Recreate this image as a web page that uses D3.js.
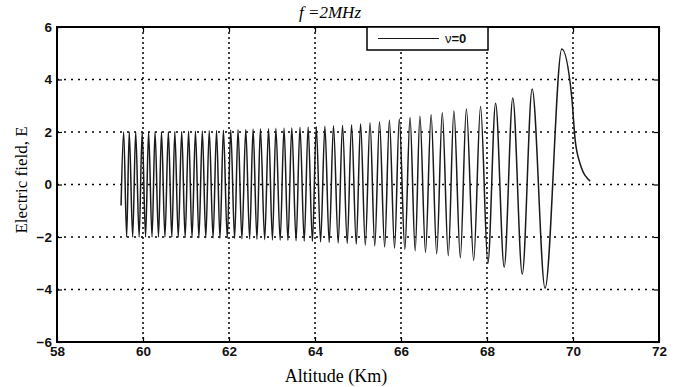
<!DOCTYPE html>
<html>
<head>
<meta charset="utf-8">
<script src="https://cdnjs.cloudflare.com/ajax/libs/d3/7.8.5/d3.min.js"></script>
<style>
  body { margin: 0; background: #fff; }
  svg { display: block; }
</style>
</head>
<body>
<div id="chart"></div>
<script>
// values: crests, troughs and the decaying tail
var peakAlt = [59.55, 59.68, 59.83, 59.98, 60.13, 60.28, 60.43, 60.59, 60.74, 60.90,
  61.06, 61.22, 61.38, 61.54, 61.71, 61.87, 62.04, 62.21, 62.39, 62.56,
  62.73, 62.92, 63.09, 63.28, 63.46, 63.65, 63.84, 64.03, 64.23, 64.43,
  64.64, 64.85, 65.06, 65.28, 65.50, 65.73, 65.96, 66.21, 66.44, 66.70,
  66.96, 67.23, 67.52, 67.85, 68.20, 68.60, 69.05, 69.74];
var peakE = [2.00, 2.00, 2.00, 2.00, 2.00, 2.00, 2.01, 2.01, 2.02, 2.02,
  2.03, 2.03, 2.04, 2.05, 2.06, 2.07, 2.08, 2.09, 2.10, 2.11,
  2.12, 2.13, 2.14, 2.15, 2.16, 2.18, 2.19, 2.21, 2.22, 2.24,
  2.26, 2.28, 2.31, 2.35, 2.39, 2.45, 2.50, 2.55, 2.60, 2.66,
  2.73, 2.80, 2.88, 2.97, 3.10, 3.30, 3.64, 5.16];

var troughAlt = [59.62, 59.76, 59.91, 60.06, 60.21, 60.36, 60.51, 60.67, 60.82, 60.98,
  61.14, 61.30, 61.46, 61.63, 61.79, 61.96, 62.13, 62.30, 62.48, 62.65,
  62.83, 63.01, 63.19, 63.37, 63.56, 63.75, 63.94, 64.13, 64.33, 64.54,
  64.75, 64.96, 65.17, 65.39, 65.62, 65.85, 66.09, 66.33, 66.57, 66.83,
  67.10, 67.38, 67.69, 68.02, 68.40, 68.82, 69.35];
var troughE = [-2.00, -2.00, -2.00, -2.00, -2.00, -2.00, -2.00, -2.01, -2.01, -2.02,
  -2.02, -2.03, -2.03, -2.04, -2.05, -2.05, -2.06, -2.07, -2.08, -2.09,
  -2.10, -2.11, -2.12, -2.13, -2.14, -2.16, -2.17, -2.19, -2.21, -2.23,
  -2.25, -2.28, -2.31, -2.34, -2.38, -2.42, -2.47, -2.52, -2.58, -2.64,
  -2.71, -2.79, -2.89, -3.00, -3.15, -3.41, -3.95];

var endAlt = [59.49, 69.97, 70.05, 70.16, 70.40];
var endE = [-0.80, 3.34, 1.70, 0.82, 0.13];

var xTicks = [58, 60, 62, 64, 66, 68, 70, 72];
var yTicks = [-6, -4, -2, 0, 2, 4, 6];

var W = 681, H = 387;
var mLeft = 57, mRight = 659, mTop = 27, mBottom = 342;

var pts = [];
peakAlt.forEach(function(a, i) { pts.push([a, peakE[i]]); });
troughAlt.forEach(function(a, i) { pts.push([a, troughE[i]]); });
endAlt.forEach(function(a, i) { pts.push([a, endE[i]]); });
pts.sort(function(a, b) { return a[0] - b[0]; });

var x = d3.scaleLinear().domain([58, 72]).range([mLeft, mRight]);
var y = d3.scaleLinear().domain([-6, 6]).range([mBottom, mTop]);

var svg = d3.select("#chart").append("svg")
  .attr("width", W)
  .attr("height", H);

// dotted grid
svg.append("g")
  .selectAll("line")
  .data(xTicks.slice(1, -1))
  .enter().append("line")
    .attr("x1", d => x(d)).attr("x2", d => x(d))
    .attr("y1", mTop).attr("y2", mBottom)
    .attr("stroke", "#000")
    .attr("stroke-width", 1.5)
    .attr("stroke-dasharray", "2,3");

svg.append("g")
  .selectAll("line")
  .data(yTicks.slice(1, -1))
  .enter().append("line")
    .attr("x1", mLeft).attr("x2", mRight)
    .attr("y1", d => y(d)).attr("y2", d => y(d))
    .attr("stroke", "#000")
    .attr("stroke-width", 1.5)
    .attr("stroke-dasharray", "2,5");

// curve
var line = d3.line()
  .x(d => x(d[0]))
  .y(d => y(d[1]))
  .curve(d3.curveMonotoneX);

svg.append("path")
  .datum(pts)
  .attr("fill", "none")
  .attr("stroke", "#1a1a1a")
  .attr("stroke-width", 1.5)
  .attr("d", line);

// axes, ticks pointing inward
var fontTick = "'Liberation Sans', Arial, sans-serif";

var xa = svg.append("g")
  .attr("transform", "translate(0," + mBottom + ")")
  .call(d3.axisBottom(x).tickValues(xTicks).tickSize(-5).tickPadding(4).tickFormat(d3.format("d")));
var ya = svg.append("g")
  .attr("transform", "translate(" + mLeft + ",0)")
  .call(d3.axisLeft(y).tickValues(yTicks).tickSize(-5).tickPadding(5).tickFormat(d => d < 0 ? "\u2212" + (-d) : d));
svg.append("g")
  .attr("transform", "translate(0," + mTop + ")")
  .call(d3.axisTop(x).tickValues(xTicks).tickSize(-5).tickFormat(""));
svg.append("g")
  .attr("transform", "translate(" + mRight + ",0)")
  .call(d3.axisRight(y).tickValues(yTicks).tickSize(-5).tickFormat(""));

svg.selectAll(".domain").remove();
svg.selectAll(".tick line").attr("stroke", "#000").attr("stroke-width", 1.2);
[xa, ya].forEach(function(g) {
  g.selectAll("text")
    .attr("font-family", fontTick)
    .attr("font-weight", "bold")
    .attr("font-size", 13.5)
    .attr("fill", "#111");
});

// frame
svg.append("rect")
  .attr("x", mLeft).attr("y", mTop)
  .attr("width", mRight - mLeft).attr("height", mBottom - mTop)
  .attr("fill", "none")
  .attr("stroke", "#000")
  .attr("stroke-width", 2);

// legend
var lg = svg.append("g");
lg.append("rect")
  .attr("x", 367).attr("y", mTop)
  .attr("width", 121).attr("height", 23)
  .attr("fill", "#fff")
  .attr("stroke", "#000")
  .attr("stroke-width", 1.5);
lg.append("line")
  .attr("x1", 378).attr("x2", 439)
  .attr("y1", mTop + 11.5).attr("y2", mTop + 11.5)
  .attr("stroke", "#1a1a1a")
  .attr("stroke-width", 1.2);
var lt = lg.append("text")
  .attr("x", 445).attr("y", mTop + 16)
  .attr("font-family", fontTick)
  .attr("font-size", 13)
  .attr("fill", "#111");
lt.append("tspan").text("\u03BD");
lt.append("tspan").attr("font-weight", "bold").text("=0");

// titles
var serif = "'Liberation Serif', 'Times New Roman', serif";
svg.append("text")
  .attr("x", 330).attr("y", 18)
  .attr("text-anchor", "middle")
  .attr("font-family", serif)
  .attr("font-style", "italic")
  .attr("font-size", 17)
  .text("f =2MHz");

svg.append("text")
  .attr("x", 336).attr("y", 382)
  .attr("text-anchor", "middle")
  .attr("font-family", serif)
  .attr("font-size", 18)
  .text("Altitude (Km)");

svg.append("text")
  .attr("transform", "translate(27,180) rotate(-90)")
  .attr("text-anchor", "middle")
  .attr("font-family", serif)
  .attr("font-size", 17)
  .text("Electric field, E");
</script>
</body>
</html>
